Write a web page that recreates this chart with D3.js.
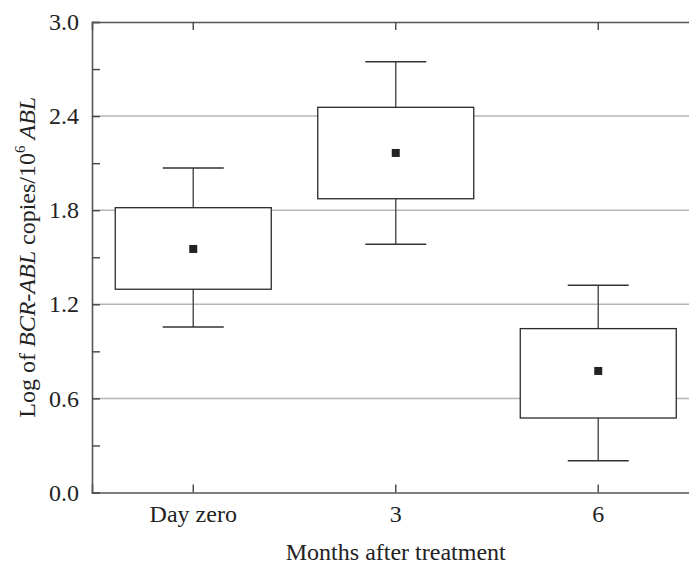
<!DOCTYPE html>
<html>
<head>
<meta charset="utf-8">
<script src="https://cdn.jsdelivr.net/npm/d3@7"></script>
<style>
  body { margin: 0; background: #fff; }
  svg text { font-family: "Liberation Serif", "Times New Roman", serif; fill: #222; }
</style>
</head>
<body>
<svg class="boxplot" width="689" height="565"></svg>
<script>
// values
var categories = ["Day zero", "3", "6"];
var whiskerLow = [1.055, 1.583, 0.203];
var boxLow     = [1.296, 1.873, 0.475];
var boxHigh    = [1.816, 2.456, 1.045];
var whiskerHigh = [2.069, 2.747, 1.321];
var means      = [1.553, 2.165, 0.775];
var yTicks = [0, 0.3, 0.6, 0.9, 1.2, 1.5, 1.8, 2.1, 2.4, 2.7, 3.0];
var gridValues = [0.6, 1.2, 1.8, 2.4];

var data = categories.map(function(c, i) {
  return {cat: c, wl: whiskerLow[i], q1: boxLow[i], q3: boxHigh[i], wh: whiskerHigh[i], mean: means[i]};
});

var svg = d3.select("svg.boxplot"),
  margin = {top: 22, left: 92},
  height = 470.5,
  fontSize = 24;

var x = d3.scaleBand().domain(categories).range([0, 607.5]),
  y = d3.scaleLinear().domain([0, 3]).range([height, 0]);

var g = svg.append("g")
  .attr("transform", "translate(" + margin.left + "," + margin.top + ")");

// grid lines
g.selectAll(".grid")
  .data(gridValues)
  .enter().append("line")
  .attr("x1", 0).attr("x2", 620)
  .attr("y1", function(d) { return y(d); })
  .attr("y2", function(d) { return y(d); })
  .attr("stroke", "#b5b5b5")
  .attr("stroke-width", 1.5);

var cx = function(d) { return x(d.cat) + x.bandwidth() / 2; };
var boxW = 156, capW = 61;

// whiskers
g.selectAll(".whisker")
  .data(data)
  .enter().append("line")
  .attr("x1", cx).attr("x2", cx)
  .attr("y1", function(d) { return y(d.wl); })
  .attr("y2", function(d) { return y(d.wh); })
  .attr("stroke", "#555").attr("stroke-width", 1.5);

["wl", "wh"].forEach(function(k) {
  g.selectAll(".cap-" + k)
    .data(data)
    .enter().append("line")
    .attr("x1", function(d) { return cx(d) - capW / 2; })
    .attr("x2", function(d) { return cx(d) + capW / 2; })
    .attr("y1", function(d) { return y(d[k]); })
    .attr("y2", function(d) { return y(d[k]); })
    .attr("stroke", "#333").attr("stroke-width", 1.5);
});

// boxes
g.selectAll(".box")
  .data(data)
  .enter().append("rect")
  .attr("x", function(d) { return cx(d) - boxW / 2; })
  .attr("y", function(d) { return y(d.q3); })
  .attr("width", boxW)
  .attr("height", function(d) { return y(d.q1) - y(d.q3); })
  .attr("fill", "#fff")
  .attr("stroke", "#2a2a2a").attr("stroke-width", 1.3);

// mean markers
g.selectAll(".mean")
  .data(data)
  .enter().append("rect")
  .attr("x", function(d) { return cx(d) - 4; })
  .attr("y", function(d) { return y(d.mean) - 4; })
  .attr("width", 8).attr("height", 8)
  .attr("fill", "#222");

// left axis, inward ticks
var yAxis = g.append("g")
  .call(d3.axisLeft(y).tickValues(yTicks).tickSize(-8).tickPadding(13)
    .tickFormat(function(d) { return Math.round(d * 10) % 6 === 0 ? d.toFixed(1) : ""; }));

// bottom axis, inward ticks
var xAxis = g.append("g")
  .attr("transform", "translate(0," + height + ")")
  .call(d3.axisBottom(x).tickSize(-8).tickPadding(12));

// top frame
var topAxis = g.append("g")
  .call(d3.axisTop(x).tickSize(-8).tickFormat(""));

[yAxis, xAxis, topAxis].forEach(function(a) {
  a.attr("font-family", null).attr("font-size", null);
  a.select(".domain").attr("stroke", "#555").attr("stroke-width", 1.6);
  a.selectAll(".tick line").attr("stroke", "#444").attr("stroke-width", 1.4);
  a.selectAll("text").attr("font-size", fontSize).attr("fill", "#222");
});

// axis titles
svg.append("text")
  .attr("x", margin.left + x.bandwidth() * 1.5)
  .attr("y", 560)
  .attr("text-anchor", "middle")
  .attr("font-size", fontSize)
  .text("Months after treatment");

var yt = svg.append("text")
  .attr("transform", "translate(35," + (margin.top + height / 2) + ")rotate(-90)")
  .attr("text-anchor", "middle")
  .attr("font-size", fontSize);
yt.append("tspan").text("Log of ");
yt.append("tspan").attr("font-style", "italic").text("BCR-ABL");
yt.append("tspan").text(" copies/10");
yt.append("tspan").attr("font-size", 15).attr("dy", -10).text("6");
yt.append("tspan").attr("dy", 10).text(" ");
yt.append("tspan").attr("font-style", "italic").text("ABL");
</script>
</body>
</html>
